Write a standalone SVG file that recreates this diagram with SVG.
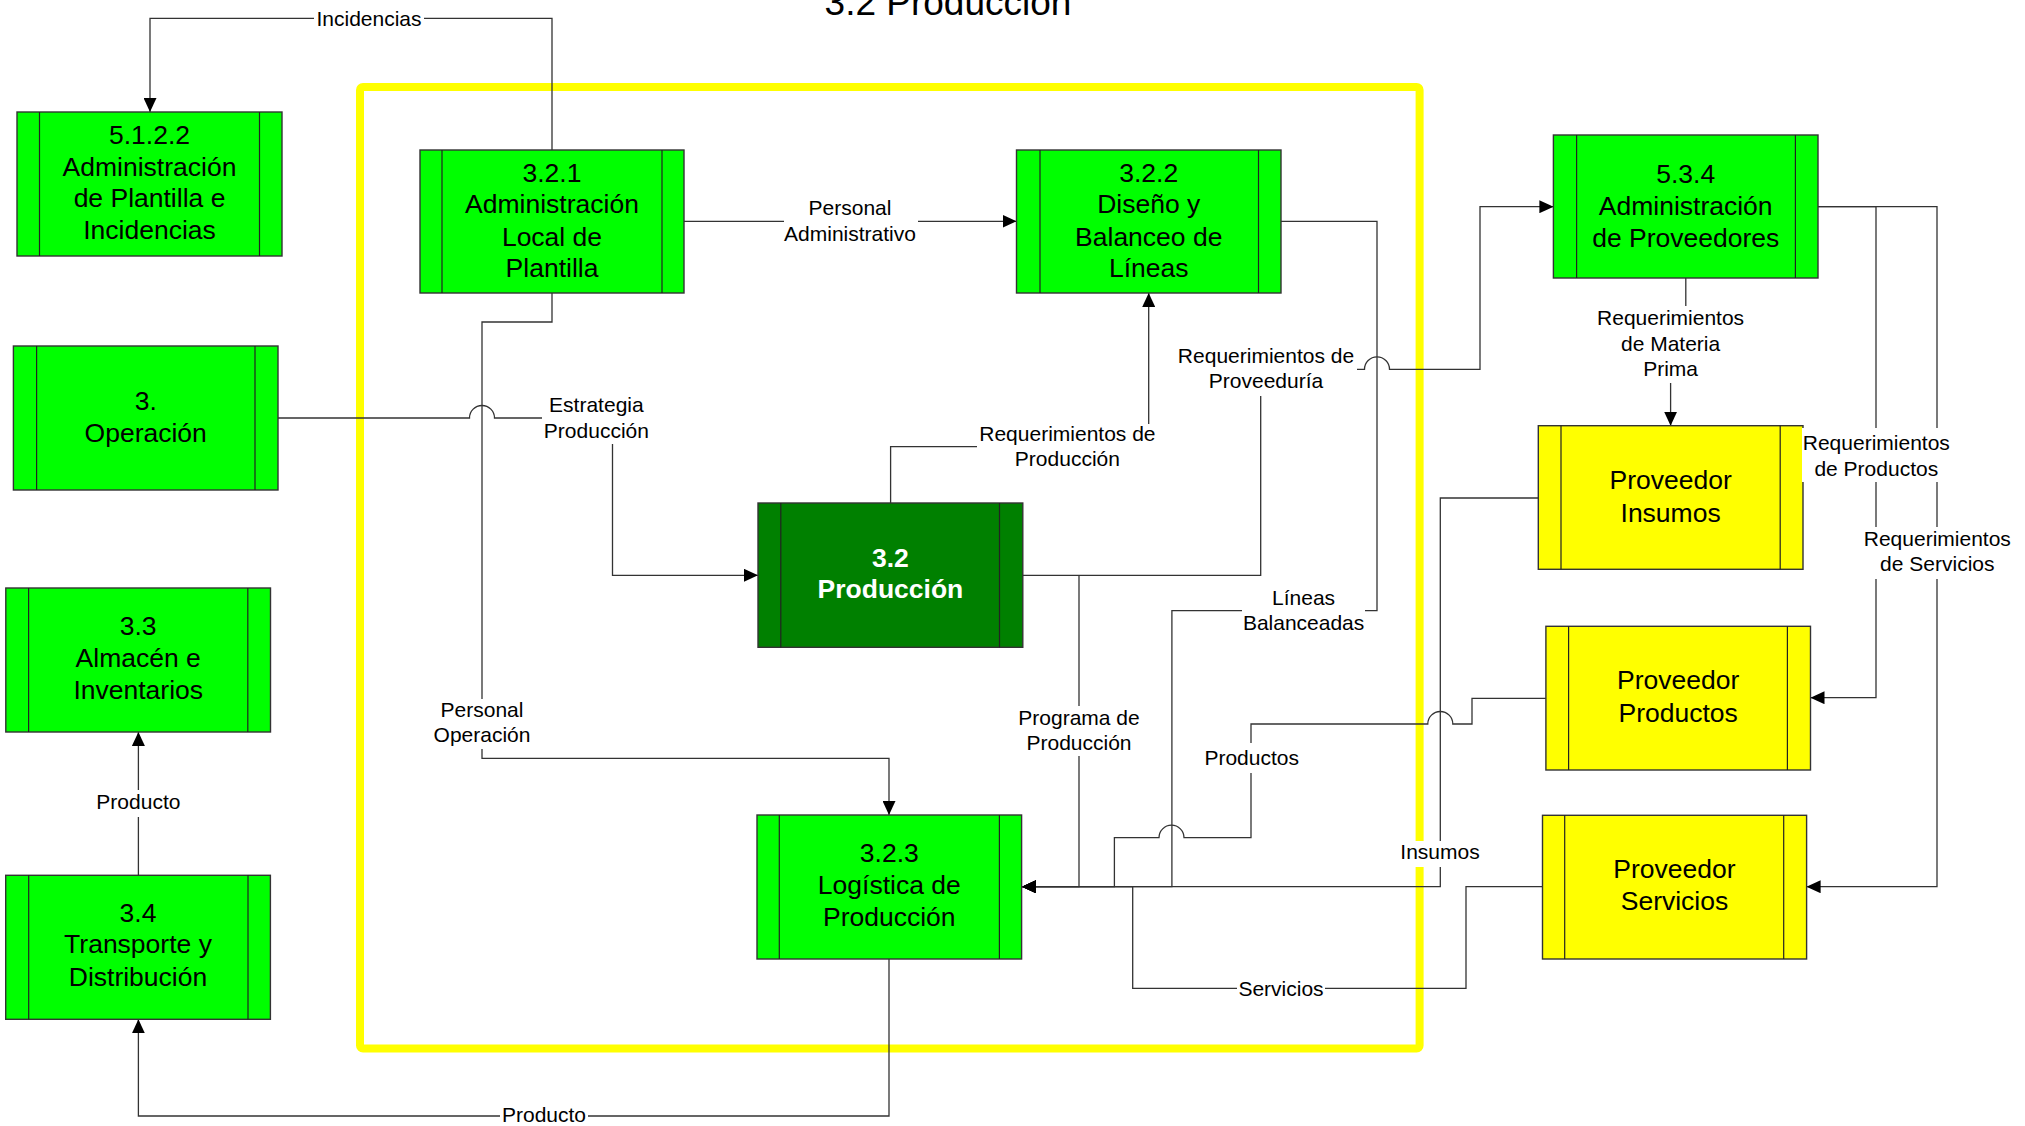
<svg xmlns="http://www.w3.org/2000/svg" width="2025" height="1126" viewBox="0 0 2025 1126">
<style>
.bg{fill:#fff}
.node rect.b{stroke:#333;stroke-width:1.4}
.g rect.b{fill:#00ff00}
.y rect.b{fill:#ffff00}
.d rect.b{fill:#008000}
.node line{stroke:#222;stroke-width:1.2}
.node text{font-family:"Liberation Sans",Arial,Helvetica,sans-serif;font-size:26.5px;text-anchor:middle;fill:#000}
.d text{fill:#fff;font-weight:bold}
.conn path{fill:none;stroke:#333;stroke-width:1.3}
.lbl rect{fill:#fff}
.lbl text{font-family:"Liberation Sans",Arial,Helvetica,sans-serif;font-size:21px;text-anchor:middle;fill:#000}
.title{font-family:"Liberation Sans",Arial,Helvetica,sans-serif;font-size:37px;text-anchor:middle;fill:#000}
</style>
<defs>
<marker id="arr" viewBox="0 0 14 13" refX="14" refY="6.5" markerWidth="14" markerHeight="13" markerUnits="userSpaceOnUse" orient="auto">
<path d="M0,0 L14,6.5 L0,13 z" fill="#000"/>
</marker>
</defs>
<rect class="bg" x="0" y="0" width="2025" height="1126"/>
<text class="title" x="948" y="15">3.2 Producción</text>
<rect id="frame" x="360" y="87" width="1059.6" height="961.5" rx="3" fill="none" stroke="#ffff00" stroke-width="8"/>

<g id="connectors" class="conn">
<path d="M552,150 V18.3 H150 V112" marker-end="url(#arr)"/>
<path d="M684,221.3 H1016.5" marker-end="url(#arr)"/>
<path d="M278,418 H469.5 A12.5,12.5 0 0 1 494.5,418 H612.5 V575.3 H758" marker-end="url(#arr)"/>
<path d="M552,293 V322 H482 V758.3 H889 V815" marker-end="url(#arr)"/>
<path d="M890.6,503 V446.7 H1148.7 V293" marker-end="url(#arr)"/>
<path d="M1022.8,575.3 H1260.7 V369.3 H1364.5 A12.5,12.5 0 0 1 1389.5,369.3 H1480 V206.7 H1553.4" marker-end="url(#arr)"/>
<path d="M1079,575.3 V886.7 H1022" marker-end="url(#arr)"/>
<path d="M1281,221.3 H1377 V610.7 H1171.9 V886.7 H1022" marker-end="url(#arr)"/>
<path d="M1685.8,278 V345 H1670.6 V425.7" marker-end="url(#arr)"/>
<path d="M1818,206.7 H1876 V697.7 H1810.5" marker-end="url(#arr)"/>
<path d="M1818,206.7 H1937 V886.7 H1806.6" marker-end="url(#arr)"/>
<path d="M1538.3,498 H1440.3 V886.7 H1022" marker-end="url(#arr)"/>
<path d="M1545.9,698.3 H1472 V724 H1452.8 A12.5,12.5 0 0 0 1427.8,724 H1251 V837.7 H1184 A12.5,12.5 0 0 0 1159,837.7 H1114.4 V886.7 H1022" marker-end="url(#arr)"/>
<path d="M1542.5,886.7 H1466 V988.3 H1132.7 V886.7 H1022" marker-end="url(#arr)"/>
<path d="M138.4,875.3 V732" marker-end="url(#arr)"/>
<path d="M889,959 V1116 H138.4 V1019.3" marker-end="url(#arr)"/>
</g>

<g id="n5122" class="node g">
<rect class="b" x="17" y="112" width="265" height="144"/>
<line x1="39.5" y1="112" x2="39.5" y2="256"/><line x1="259.5" y1="112" x2="259.5" y2="256"/>
<text><tspan x="149.5" y="144">5.1.2.2</tspan><tspan x="149.5" y="175.7">Administración</tspan><tspan x="149.5" y="207.3">de Plantilla e</tspan><tspan x="149.5" y="239.3">Incidencias</tspan></text>
</g>
<g id="n321" class="node g">
<rect class="b" x="420" y="150" width="264" height="143"/>
<line x1="442" y1="150" x2="442" y2="293"/><line x1="662" y1="150" x2="662" y2="293"/>
<text><tspan x="552" y="181.7">3.2.1</tspan><tspan x="552" y="213.3">Administración</tspan><tspan x="552" y="245.7">Local de</tspan><tspan x="552" y="277.3">Plantilla</tspan></text>
</g>
<g id="n322" class="node g">
<rect class="b" x="1016.5" y="150" width="264.5" height="143"/>
<line x1="1040" y1="150" x2="1040" y2="293"/><line x1="1258.5" y1="150" x2="1258.5" y2="293"/>
<text><tspan x="1148.75" y="181.7">3.2.2</tspan><tspan x="1148.75" y="213.3">Diseño y</tspan><tspan x="1148.75" y="245.7">Balanceo de</tspan><tspan x="1148.75" y="277.3">Líneas</tspan></text>
</g>
<g id="n534" class="node g">
<rect class="b" x="1553.4" y="135" width="264.6" height="143"/>
<line x1="1576.6" y1="135" x2="1576.6" y2="278"/><line x1="1795.4" y1="135" x2="1795.4" y2="278"/>
<text><tspan x="1685.7" y="182.7">5.3.4</tspan><tspan x="1685.7" y="215">Administración</tspan><tspan x="1685.7" y="246.7">de Proveedores</tspan></text>
</g>
<g id="n3" class="node g">
<rect class="b" x="13.4" y="346" width="264.6" height="144"/>
<line x1="36.6" y1="346" x2="36.6" y2="490"/><line x1="255" y1="346" x2="255" y2="490"/>
<text><tspan x="145.7" y="410">3.</tspan><tspan x="145.7" y="441.7">Operación</tspan></text>
</g>
<g id="n33" class="node g">
<rect class="b" x="5.8" y="588" width="264.7" height="144"/>
<line x1="28.6" y1="588" x2="28.6" y2="732"/><line x1="247.8" y1="588" x2="247.8" y2="732"/>
<text><tspan x="138.2" y="635">3.3</tspan><tspan x="138.2" y="666.7">Almacén e</tspan><tspan x="138.2" y="699">Inventarios</tspan></text>
</g>
<g id="n32" class="node d">
<rect class="b" x="758" y="503" width="264.8" height="144.3"/>
<line x1="780.8" y1="503" x2="780.8" y2="647.3"/><line x1="999.5" y1="503" x2="999.5" y2="647.3"/>
<text><tspan x="890.4" y="566.7">3.2</tspan><tspan x="890.4" y="598.3">Producción</tspan></text>
</g>
<g id="n323" class="node g">
<rect class="b" x="757" y="815" width="264.6" height="144"/>
<line x1="779.3" y1="815" x2="779.3" y2="959"/><line x1="999.4" y1="815" x2="999.4" y2="959"/>
<text><tspan x="889.3" y="861.7">3.2.3</tspan><tspan x="889.3" y="894">Logística de</tspan><tspan x="889.3" y="926">Producción</tspan></text>
</g>
<g id="n34" class="node g">
<rect class="b" x="5.7" y="875.3" width="264.7" height="144"/>
<line x1="28.7" y1="875.3" x2="28.7" y2="1019.3"/><line x1="248" y1="875.3" x2="248" y2="1019.3"/>
<text><tspan x="138" y="921.7">3.4</tspan><tspan x="138" y="953.3">Transporte y</tspan><tspan x="138" y="985.7">Distribución</tspan></text>
</g>
<g id="pInsumos" class="node y">
<rect class="b" x="1538.3" y="425.7" width="264.7" height="143.6"/>
<line x1="1561" y1="425.7" x2="1561" y2="569.3"/><line x1="1780.2" y1="425.7" x2="1780.2" y2="569.3"/>
<text><tspan x="1670.6" y="489.3">Proveedor</tspan><tspan x="1670.6" y="521.7">Insumos</tspan></text>
</g>
<g id="pProductos" class="node y">
<rect class="b" x="1545.9" y="626.3" width="264.6" height="143.7"/>
<line x1="1568.6" y1="626.3" x2="1568.6" y2="770"/><line x1="1787.4" y1="626.3" x2="1787.4" y2="770"/>
<text><tspan x="1678.2" y="689.3">Proveedor</tspan><tspan x="1678.2" y="721.7">Productos</tspan></text>
</g>
<g id="pServicios" class="node y">
<rect class="b" x="1542.5" y="815.3" width="264.1" height="143.7"/>
<line x1="1564.7" y1="815.3" x2="1564.7" y2="959"/><line x1="1783.7" y1="815.3" x2="1783.7" y2="959"/>
<text><tspan x="1674.5" y="878.3">Proveedor</tspan><tspan x="1674.5" y="910">Servicios</tspan></text>
</g>

<g id="labels" class="lbl">
<rect x="314" y="8" width="110" height="21"/>
<text x="369" y="25.5">Incidencias</text>
<rect x="784" y="198" width="134" height="49"/>
<text><tspan x="850" y="215">Personal</tspan><tspan x="850" y="240.7">Administrativo</tspan></text>
<rect x="542" y="396" width="109" height="48"/>
<text><tspan x="596.4" y="412.3">Estrategia</tspan><tspan x="596.4" y="437.7">Producción</tspan></text>
<rect x="430" y="699" width="104" height="50"/>
<text><tspan x="482" y="716.5">Personal</tspan><tspan x="482" y="742">Operación</tspan></text>
<rect x="977" y="424" width="181" height="47"/>
<text><tspan x="1067.4" y="440.7">Requerimientos de</tspan><tspan x="1067.4" y="465.7">Producción</tspan></text>
<rect x="1176" y="346" width="181" height="50"/>
<text><tspan x="1266" y="362.7">Requerimientos de</tspan><tspan x="1266" y="387.7">Proveeduría</tspan></text>
<rect x="1242" y="588" width="123" height="48"/>
<text><tspan x="1303.6" y="605">Líneas</tspan><tspan x="1303.6" y="630">Balanceadas</tspan></text>
<rect x="1018" y="706" width="122" height="50"/>
<text><tspan x="1079" y="724.5">Programa de</tspan><tspan x="1079" y="750">Producción</tspan></text>
<rect x="1595" y="306" width="151" height="77"/>
<text><tspan x="1670.6" y="325">Requerimientos</tspan><tspan x="1670.6" y="350.7">de Materia</tspan><tspan x="1670.6" y="376">Prima</tspan></text>
<rect x="1802" y="428" width="150" height="54"/>
<text><tspan x="1876.3" y="450">Requerimientos</tspan><tspan x="1876.3" y="475.7">de Productos</tspan></text>
<rect x="1862" y="527" width="151" height="52"/>
<text><tspan x="1937.3" y="545.7">Requerimientos</tspan><tspan x="1937.3" y="571">de Servicios</tspan></text>
<rect x="1399" y="841" width="82" height="26"/>
<text x="1440" y="859.3">Insumos</text>
<rect x="1205" y="743" width="93" height="30"/>
<text x="1251.7" y="765">Productos</text>
<rect x="1237" y="979" width="88" height="21"/>
<text x="1281" y="995.5">Servicios</text>
<rect x="95" y="790" width="87" height="27"/>
<text x="138.4" y="809.3">Producto</text>
<rect x="500" y="1105" width="88" height="21"/>
<text x="544" y="1121.5">Producto</text>
</g>
</svg>
